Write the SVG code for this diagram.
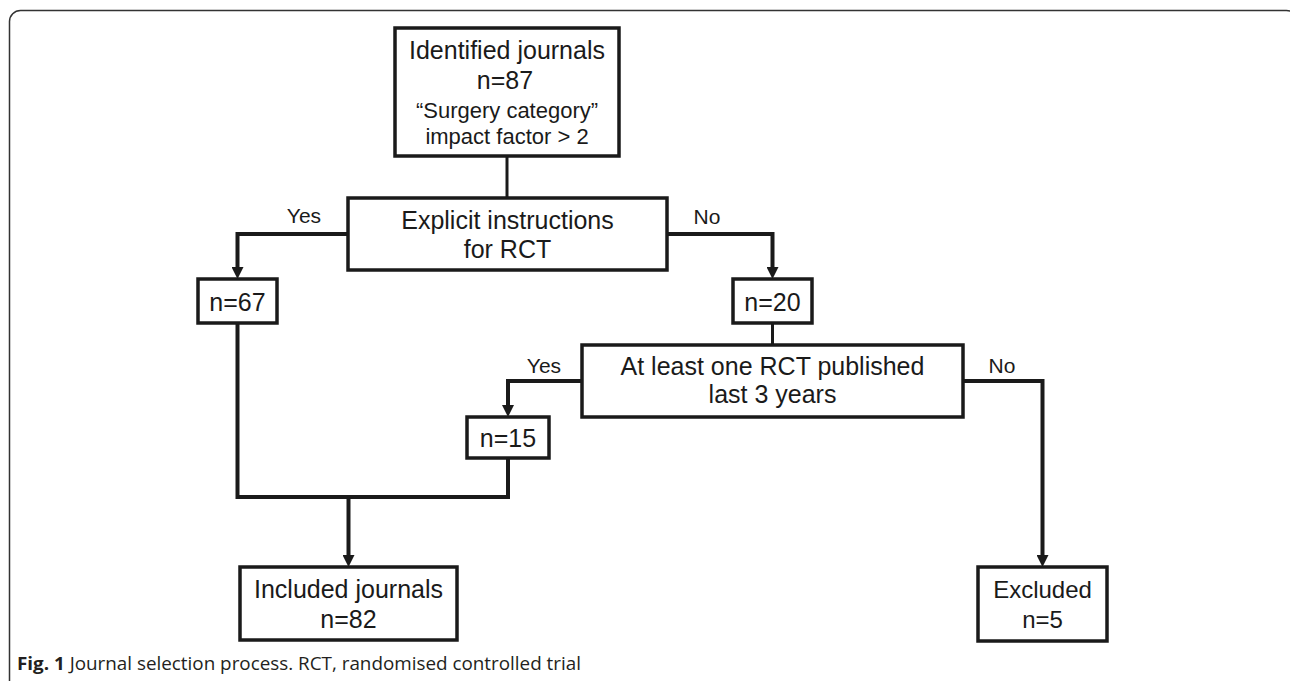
<svg xmlns="http://www.w3.org/2000/svg" width="1290" height="681" viewBox="0 0 1290 681">
<style>
.box{fill:#fff;stroke:#1a1a1a;stroke-width:3.5}
.t{font-family:"Liberation Sans",Arial,sans-serif;font-size:24px;fill:#1a1a1a;text-anchor:middle}
.s{font-size:22px}
.lbl{font-family:"Liberation Sans",Arial,sans-serif;font-size:21px;fill:#1a1a1a;text-anchor:middle}
.c{fill:none;stroke:#1a1a1a;stroke-width:4}
.cap{font-family:"Open Sans","Liberation Sans",sans-serif;font-size:18px;fill:#231f20}
</style>
<defs>
<marker id="ah" viewBox="0 0 12 12" refX="4" refY="6" markerWidth="12" markerHeight="12" markerUnits="userSpaceOnUse" orient="auto">
<path d="M0,0 L12,6 L0,12 z" fill="#1a1a1a"/>
</marker>
</defs>
<rect width="1290" height="681" fill="#fff"/>
<rect x="9.5" y="10.5" width="1288" height="700" rx="11" fill="none" stroke="#333" stroke-width="1.5"/>
<g id="connectors">
<path class="c" d="M507,156 V198" style="stroke-width:3"/>
<path class="c" d="M348,234 H237.5 V271" marker-end="url(#ah)"/>
<path class="c" d="M667,234 H772.5 V271" marker-end="url(#ah)"/>
<path class="c" d="M772.5,323 V345" style="stroke-width:3"/>
<path class="c" d="M582,381 H508 V409" marker-end="url(#ah)"/>
<path class="c" d="M963,381 H1042.5 V559" marker-end="url(#ah)"/>
<path class="c" d="M237.5,323 V497 H508 V458"/>
<path class="c" d="M348.5,497 V559" marker-end="url(#ah)"/>
</g>
<g id="n-identified">
<rect class="box" x="395" y="28" width="224" height="128"/>
<text class="t" x="507" y="59" style="font-size:25px">Identified journals</text>
<text class="t" x="505" y="89" style="font-size:25px">n=87</text>
<text class="t s" x="507" y="118">“Surgery category”</text>
<text class="t s" x="507" y="144">impact factor &gt; 2</text>
</g>
<g id="n-explicit">
<rect class="box" x="348" y="198" width="319" height="72"/>
<text class="t" x="507.5" y="229" style="font-size:25px">Explicit instructions</text>
<text class="t" x="507.5" y="258" style="font-size:25px">for RCT</text>
</g>
<g id="n-67">
<rect class="box" x="198" y="279" width="79" height="44"/>
<text class="t" x="237.5" y="311" style="font-size:25px">n=67</text>
</g>
<g id="n-20">
<rect class="box" x="733" y="279" width="79" height="44"/>
<text class="t" x="772.5" y="311" style="font-size:25px">n=20</text>
</g>
<g id="n-rct">
<rect class="box" x="582" y="345" width="381" height="72"/>
<text class="t" x="772.5" y="375" style="font-size:25px">At least one RCT published</text>
<text class="t" x="772.5" y="403" style="font-size:25px">last 3 years</text>
</g>
<g id="n-15">
<rect class="box" x="467" y="417" width="82" height="41"/>
<text class="t" x="508" y="447" style="font-size:25px">n=15</text>
</g>
<g id="n-included">
<rect class="box" x="240" y="567" width="217" height="73"/>
<text class="t" x="348.5" y="598" style="font-size:25px">Included journals</text>
<text class="t" x="348.5" y="628" style="font-size:25px">n=82</text>
</g>
<g id="n-excluded">
<rect class="box" x="978" y="567" width="129" height="74"/>
<text class="t" x="1042.5" y="598">Excluded</text>
<text class="t" x="1042.5" y="628">n=5</text>
</g>
<g id="labels">
<text class="lbl" x="304" y="223">Yes</text>
<text class="lbl" x="707" y="224">No</text>
<text class="lbl" x="544" y="373">Yes</text>
<text class="lbl" x="1002" y="373">No</text>
</g>
<text class="cap" x="17" y="670" textLength="564" lengthAdjust="spacingAndGlyphs"><tspan font-weight="bold">Fig. 1</tspan> Journal selection process. RCT, randomised controlled trial</text>
</svg>
